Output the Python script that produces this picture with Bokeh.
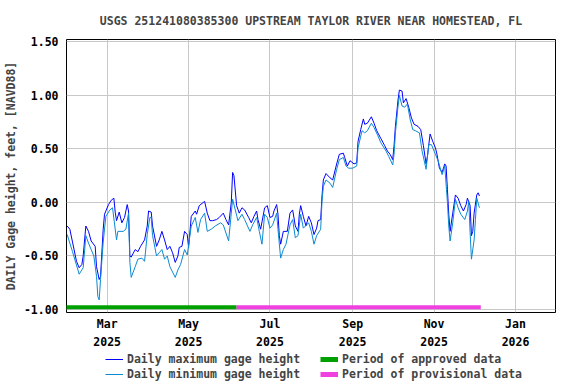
from datetime import datetime
import pandas as pd
from bokeh.plotting import figure
from bokeh.layouts import column
from bokeh.models import (Range1d, FixedTicker, DatetimeTickFormatter, Legend,
                          LegendItem, NumeralTickFormatter)
from bokeh.embed import file_html
from bokeh.resources import INLINE

TITLE = "USGS 251241080385300 UPSTREAM TAYLOR RIVER NEAR HOMESTEAD, FL"
Y_LABEL = "DAILY Gage height, feet, [NAVD88]"

max_dates = ["2025-01-30", "2025-02-01", "2025-02-03", "2025-02-06", "2025-02-08", "2025-02-10",
             "2025-02-11", "2025-02-13", "2025-02-15", "2025-02-17", "2025-02-20", "2025-02-21",
             "2025-02-23", "2025-02-24", "2025-02-26", "2025-02-27", "2025-03-02", "2025-03-04",
             "2025-03-06", "2025-03-07", "2025-03-08", "2025-03-10", "2025-03-12", "2025-03-14",
             "2025-03-16", "2025-03-17", "2025-03-18", "2025-03-19", "2025-03-22", "2025-03-24",
             "2025-03-26", "2025-03-29", "2025-03-31", "2025-04-01", "2025-04-03", "2025-04-04",
             "2025-04-07", "2025-04-09", "2025-04-11", "2025-04-13", "2025-04-15", "2025-04-17",
             "2025-04-19", "2025-04-21", "2025-04-23", "2025-04-24", "2025-04-26", "2025-04-28",
             "2025-04-30", "2025-05-01", "2025-05-03", "2025-05-06", "2025-05-07", "2025-05-09",
             "2025-05-12", "2025-05-13", "2025-05-15", "2025-05-17", "2025-05-19", "2025-05-22",
             "2025-05-24", "2025-05-27", "2025-05-29", "2025-05-31", "2025-06-02", "2025-06-03",
             "2025-06-04", "2025-06-06", "2025-06-08", "2025-06-10", "2025-06-12", "2025-06-15",
             "2025-06-17", "2025-06-19", "2025-06-21", "2025-06-22", "2025-06-24", "2025-06-27",
             "2025-06-29", "2025-07-01", "2025-07-03", "2025-07-04", "2025-07-06", "2025-07-07",
             "2025-07-08", "2025-07-09", "2025-07-11", "2025-07-14", "2025-07-16", "2025-07-18",
             "2025-07-20", "2025-07-22", "2025-07-23", "2025-07-24", "2025-07-26", "2025-07-28",
             "2025-07-30", "2025-08-01", "2025-08-03", "2025-08-05", "2025-08-06", "2025-08-08",
             "2025-08-09", "2025-08-10", "2025-08-12", "2025-08-15", "2025-08-17", "2025-08-20",
             "2025-08-22", "2025-08-25", "2025-08-26", "2025-08-28", "2025-08-30", "2025-09-02",
             "2025-09-04", "2025-09-05", "2025-09-07", "2025-09-09", "2025-09-10", "2025-09-12",
             "2025-09-15", "2025-09-17", "2025-09-19", "2025-09-22", "2025-09-25", "2025-09-27",
             "2025-09-29", "2025-10-01", "2025-10-02", "2025-10-03", "2025-10-05", "2025-10-06",
             "2025-10-08", "2025-10-09", "2025-10-11", "2025-10-13", "2025-10-15", "2025-10-17",
             "2025-10-20", "2025-10-22", "2025-10-24", "2025-10-26", "2025-10-27", "2025-10-29",
             "2025-10-31", "2025-11-02", "2025-11-03", "2025-11-05", "2025-11-07", "2025-11-09",
             "2025-11-10", "2025-11-11", "2025-11-12", "2025-11-13", "2025-11-15", "2025-11-17",
             "2025-11-19", "2025-11-21", "2025-11-23", "2025-11-25", "2025-11-26", "2025-11-28",
             "2025-11-29", "2025-11-30", "2025-12-01", "2025-12-03", "2025-12-04", "2025-12-05"]
max_vals = [-0.22, -0.25, -0.37, -0.55, -0.61, -0.58,
            -0.50, -0.22, -0.27, -0.36, -0.41, -0.60,
            -0.72, -0.69, -0.25, -0.11, -0.02, 0.02,
            0.04, -0.09, -0.17, -0.09, -0.19, -0.14,
            -0.02, -0.08, -0.50, -0.51, -0.44, -0.46,
            -0.41, -0.35, -0.22, -0.08, -0.09, -0.22,
            -0.41, -0.35, -0.27, -0.35, -0.44, -0.41,
            -0.47, -0.56, -0.50, -0.42, -0.41, -0.27,
            -0.30, -0.42, -0.13, -0.08, -0.11, -0.03,
            0.00, 0.01, -0.10, -0.17, -0.17, -0.16,
            -0.14, -0.10, -0.16, -0.21, 0.00, 0.28,
            0.25, -0.03, -0.10, -0.05, -0.07, -0.14,
            -0.19, -0.13, -0.08, -0.16, -0.25, -0.05,
            -0.03, -0.14, -0.13, -0.08, -0.02, -0.11,
            -0.31, -0.39, -0.27, -0.27, -0.10, -0.07,
            -0.22, -0.27, -0.11, -0.03, -0.13, -0.22,
            -0.13, -0.19, -0.30, -0.24, -0.17, -0.16,
            0.06, 0.21, 0.27, 0.23, 0.21, 0.36,
            0.45, 0.46, 0.42, 0.34, 0.39, 0.36,
            0.37, 0.57, 0.68, 0.78, 0.73, 0.74,
            0.80, 0.74, 0.67, 0.60, 0.53, 0.48,
            0.45, 0.40, 0.53, 0.71, 0.96, 1.05,
            1.04, 0.93, 0.97, 0.89, 0.79, 0.73,
            0.71, 0.68, 0.53, 0.36, 0.43, 0.64,
            0.57, 0.51, 0.46, 0.32, 0.28, 0.36,
            0.34, 0.12, -0.11, -0.27, -0.10, 0.07,
            0.04, -0.03, -0.08, -0.02, 0.04, -0.03,
            -0.31, -0.27, -0.10, 0.07, 0.09, 0.06]

min_dates = ["2025-01-30", "2025-02-03", "2025-02-08", "2025-02-11", "2025-02-13", "2025-02-15",
             "2025-02-19", "2025-02-21", "2025-02-22", "2025-02-23", "2025-02-24", "2025-02-26",
             "2025-02-28", "2025-03-03", "2025-03-05", "2025-03-08", "2025-03-09", "2025-03-13",
             "2025-03-15", "2025-03-17", "2025-03-18", "2025-03-19", "2025-03-22", "2025-03-24",
             "2025-03-27", "2025-03-29", "2025-03-31", "2025-04-02", "2025-04-03", "2025-04-04",
             "2025-04-07", "2025-04-09", "2025-04-11", "2025-04-13", "2025-04-15", "2025-04-17",
             "2025-04-21", "2025-04-23", "2025-04-25", "2025-04-28", "2025-04-30", "2025-05-03",
             "2025-05-06", "2025-05-08", "2025-05-10", "2025-05-13", "2025-05-15", "2025-05-18",
             "2025-05-21", "2025-05-25", "2025-05-27", "2025-05-31", "2025-06-02", "2025-06-03",
             "2025-06-05", "2025-06-07", "2025-06-10", "2025-06-12", "2025-06-16", "2025-06-18",
             "2025-06-21", "2025-06-23", "2025-06-25", "2025-06-27", "2025-06-29", "2025-07-01",
             "2025-07-03", "2025-07-06", "2025-07-07", "2025-07-09", "2025-07-11", "2025-07-13",
             "2025-07-16", "2025-07-18", "2025-07-20", "2025-07-22", "2025-07-24", "2025-07-26",
             "2025-07-30", "2025-08-01", "2025-08-03", "2025-08-05", "2025-08-08", "2025-08-09",
             "2025-08-10", "2025-08-12", "2025-08-15", "2025-08-17", "2025-08-20", "2025-08-22",
             "2025-08-25", "2025-08-27", "2025-08-29", "2025-09-01", "2025-09-04", "2025-09-05",
             "2025-09-08", "2025-09-10", "2025-09-12", "2025-09-15", "2025-09-17", "2025-09-20",
             "2025-09-22", "2025-09-26", "2025-09-28", "2025-10-01", "2025-10-02", "2025-10-03",
             "2025-10-05", "2025-10-06", "2025-10-08", "2025-10-10", "2025-10-12", "2025-10-14",
             "2025-10-16", "2025-10-18", "2025-10-21", "2025-10-23", "2025-10-26", "2025-10-28",
             "2025-10-30", "2025-11-02", "2025-11-04", "2025-11-07", "2025-11-09", "2025-11-11",
             "2025-11-12", "2025-11-13", "2025-11-15", "2025-11-17", "2025-11-19", "2025-11-21",
             "2025-11-24", "2025-11-26", "2025-11-27", "2025-11-28", "2025-11-29", "2025-12-01",
             "2025-12-02", "2025-12-03", "2025-12-05"]
min_vals = [-0.30, -0.46, -0.67, -0.61, -0.31, -0.38,
            -0.50, -0.69, -0.88, -0.91, -0.72, -0.37,
            -0.13, -0.07, -0.05, -0.35, -0.27, -0.27,
            -0.25, -0.10, -0.56, -0.70, -0.60, -0.53,
            -0.52, -0.55, -0.30, -0.14, -0.14, -0.31,
            -0.50, -0.47, -0.44, -0.53, -0.50, -0.60,
            -0.70, -0.63, -0.58, -0.44, -0.49, -0.22,
            -0.14, -0.28, -0.16, -0.10, -0.27, -0.25,
            -0.22, -0.19, -0.21, -0.36, -0.10, 0.03,
            -0.07, -0.17, -0.11, -0.16, -0.27, -0.21,
            -0.14, -0.27, -0.39, -0.11, -0.14, -0.24,
            -0.21, -0.10, -0.25, -0.52, -0.44, -0.39,
            -0.21, -0.16, -0.33, -0.31, -0.11, -0.24,
            -0.19, -0.27, -0.39, -0.31, -0.25, 0.01,
            0.15, 0.21, 0.18, 0.14, 0.31, 0.40,
            0.42, 0.34, 0.32, 0.32, 0.34, 0.51,
            0.67, 0.65, 0.67, 0.74, 0.70, 0.62,
            0.56, 0.48, 0.43, 0.35, 0.45, 0.65,
            0.90, 1.00, 0.90, 0.89, 0.92, 0.78,
            0.68, 0.67, 0.65, 0.48, 0.31, 0.54,
            0.54, 0.45, 0.39, 0.26, 0.34, 0.00,
            -0.22, -0.36, -0.19, 0.03, -0.05, -0.11,
            -0.16, -0.08, 0.01, -0.28, -0.53, -0.35,
            -0.16, 0.04, -0.05]

approved_period = ["2025-01-29", "2025-06-06"]
provisional_period = ["2025-06-06", "2025-12-06"]
period_level = -0.98

x_tick_dates = ["2025-03-01", "2025-05-01", "2025-07-01", "2025-09-01", "2025-11-01", "2026-01-01"]
y_ticks = [-1.0, -0.5, 0.0, 0.5, 1.0, 1.5]

legend_labels = ["Daily maximum gage height", "Period of approved data",
                 "Daily minimum gage height", "Period of provisional data"]

FONT = "DejaVu Sans Mono"
FS = "11.5px"
C_MAX, C_MIN, C_APP, C_PRO = "#0000ff", "#0a8ad2", "#00a000", "#f040e0"

x_dt_range = Range1d(datetime(2025, 1, 29, 12), datetime(2026, 1, 31))

p = figure(frame_width=489, frame_height=273, x_axis_type="datetime", output_backend="svg",
           toolbar_location=None, title=TITLE,
           x_range=x_dt_range, y_range=Range1d(-1.028, 1.522),
           min_border_left=58, min_border_right=10, min_border_top=31, min_border_bottom=32)

p.title.align = "center"
p.title.text_font = FONT
p.title.text_font_size = FS
p.title.text_font_style = "bold"
p.title.standoff = 23

p.outline_line_color = "black"
p.outline_line_width = 1
p.background_fill_color = "white"
p.border_fill_color = "white"

p.xgrid.grid_line_color = "#c8c8c8"
p.ygrid.grid_line_color = "#c8c8c8"

x_ticks_ms = [pd.Timestamp(d).value // 10**6 for d in x_tick_dates]
p.xaxis.ticker = FixedTicker(ticks=x_ticks_ms)
p.xaxis.formatter = DatetimeTickFormatter(months="%b\n%Y", days="%b\n%Y", years="%b\n%Y")
p.yaxis.ticker = FixedTicker(ticks=y_ticks)
p.yaxis.formatter = NumeralTickFormatter(format="0.00")

for ax in (p.xaxis, p.yaxis):
    ax.axis_line_color = None
    ax.major_tick_line_color = None
    ax.minor_tick_line_color = None
    ax.major_tick_out = 0
    ax.major_tick_in = 0
    ax.minor_tick_out = 0
    ax.minor_tick_in = 0
    ax.major_label_text_font = FONT
    ax.major_label_text_font_size = FS
    ax.major_label_text_font_style = "bold"
    ax.major_label_text_color = "black"
p.xaxis.major_label_standoff = 4
p.xaxis.major_label_text_line_height = 1.3
p.yaxis.major_label_standoff = 8
p.yaxis.axis_label = Y_LABEL
p.yaxis.axis_label_text_font = FONT
p.yaxis.axis_label_text_font_size = FS
p.yaxis.axis_label_text_font_style = "bold"
p.yaxis.axis_label_standoff = 3

max_x = pd.to_datetime(max_dates)
min_x = pd.to_datetime(min_dates)
app_x = pd.to_datetime(approved_period)
pro_x = pd.to_datetime(provisional_period)

p.line(max_x, max_vals, line_color=C_MAX, line_width=1)
p.line(min_x, min_vals, line_color=C_MIN, line_width=1)
p.line(app_x, [period_level] * 2, line_color=C_APP, line_width=4)
p.line(pro_x, [period_level] * 2, line_color=C_PRO, line_width=4)

# legend strip below the chart: same series, drawn outside its (hidden) y-range
lf = figure(width=p.min_border_left + 489 + 10, height=30, output_backend="svg",
            toolbar_location=None, x_axis_location=None, y_axis_location=None,
            x_range=x_dt_range, y_range=Range1d(50, 51),
            min_border_left=0, min_border_right=0, min_border_top=0, min_border_bottom=0)
lf.outline_line_color = None
lf.grid.visible = False
lf.border_fill_color = "white"
lf.background_fill_color = "white"
g_max = lf.line(max_x, max_vals, line_color=C_MAX, line_width=1)
g_app = lf.line(app_x, [period_level] * 2, line_color=C_APP, line_width=5)
g_min = lf.line(min_x, min_vals, line_color=C_MIN, line_width=1)
g_pro = lf.line(pro_x, [period_level] * 2, line_color=C_PRO, line_width=5)

legend = Legend(items=[LegendItem(label=lab, renderers=[r]) for lab, r in
                       zip(legend_labels, [g_max, g_app, g_min, g_pro])],
                ncols=2, orientation="horizontal", location=(39, 0))
legend.label_text_font = FONT
legend.label_text_font_size = FS
legend.label_text_font_style = "bold"
legend.label_height = 14
legend.glyph_height = 14
legend.glyph_width = 18
legend.label_standoff = 4
legend.label_width = 192
legend.spacing = 1
legend.padding = 0
legend.margin = 0
legend.border_line_color = None
legend.background_fill_alpha = 0
lf.add_layout(legend, "center")

layout = column(p, lf, spacing=0)
open("out.html", "w").write(file_html(layout, INLINE))
